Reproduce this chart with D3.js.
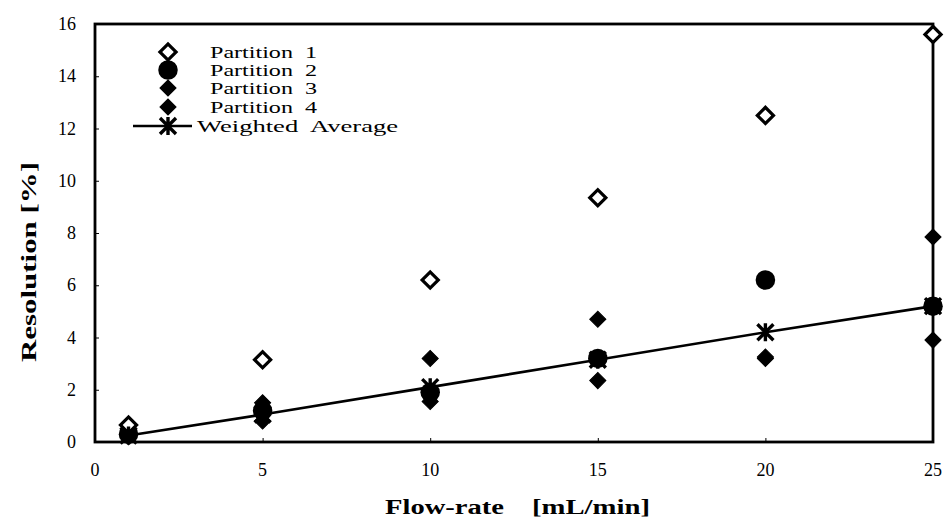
<!DOCTYPE html>
<html>
<head>
<meta charset="utf-8">
<script src="https://cdn.jsdelivr.net/npm/d3@7"></script>
<style>
  html, body { margin: 0; padding: 0; background: #fff; }
  svg { display: block; }
  text { font-family: "Liberation Serif", "Times New Roman", Times, serif; fill: #000; }
</style>
</head>
<body>
<svg id="chart" width="947" height="523"></svg>
<script>
// Flow-rate settings (mL/min)
const flowRates = [1, 5, 10, 15, 20, 25];

// Resolution per partition (%)
const partition1 = [0.65, 3.15, 6.2, 9.35, 12.5, 15.6];
const partition2 = [0.3, 1.2, 1.9, 3.2, 6.2, 5.2];
const partition3 = [0.45, 1.5, 3.2, 4.7, 3.25, 7.85];
const partition4 = [0.2, 0.8, 1.55, 2.35, 3.2, 3.9];
const weightedAverage = [0.25, 1.05, 2.1, 3.15, 4.2, 5.2];

const xTicks = [0, 5, 10, 15, 20, 25];
const yTicks = [0, 2, 4, 6, 8, 10, 12, 14, 16];

const legendLabels = ["Partition  1", "Partition  2", "Partition  3", "Partition  4", "Weighted  Average"];

const svg = d3.select("#chart");
const plotLeft = 95, plotRight = 933, plotTop = 24, plotBottom = 442;

const x = d3.scaleLinear().domain([0, 25]).range([plotLeft, plotRight]);
const y = d3.scaleLinear().domain([0, 16]).range([plotBottom, plotTop]);

// Plot frame
svg.append("rect")
  .attr("x", plotLeft).attr("y", plotTop)
  .attr("width", plotRight - plotLeft).attr("height", plotBottom - plotTop)
  .attr("fill", "none").attr("stroke", "#000").attr("stroke-width", 2.8);

// Axes: small inward ticks, labels outside
const yAxis = d3.axisRight(y).tickValues(yTicks).tickSize(4).tickFormat("");
svg.append("g").attr("transform", `translate(${plotLeft},0)`).call(yAxis)
  .call(g => g.select(".domain").remove())
  .call(g => g.selectAll("line").attr("stroke", "#000").attr("stroke-width", 1));
const xAxis = d3.axisTop(x).tickValues(xTicks).tickSize(4).tickFormat("");
svg.append("g").attr("transform", `translate(0,${plotBottom})`).call(xAxis)
  .call(g => g.select(".domain").remove())
  .call(g => g.selectAll("line").attr("stroke", "#000").attr("stroke-width", 1));

svg.append("g").selectAll("text").data(yTicks).join("text")
  .attr("x", 76).attr("y", d => y(d) + 6)
  .attr("text-anchor", "end").attr("font-size", 18)
  .text(d => d);

svg.append("g").selectAll("text").data(xTicks).join("text")
  .attr("x", d => x(d)).attr("y", 476)
  .attr("text-anchor", "middle").attr("font-size", 18)
  .text(d => d);

// Axis titles
svg.append("text").attr("x", 385).attr("y", 514)
  .attr("font-size", 20).attr("font-weight", "bold")
  .attr("textLength", 119).attr("lengthAdjust", "spacingAndGlyphs")
  .text("Flow-rate");
svg.append("text").attr("x", 532).attr("y", 514)
  .attr("font-size", 20).attr("font-weight", "bold")
  .attr("textLength", 118).attr("lengthAdjust", "spacingAndGlyphs")
  .text("[mL/min]");
svg.append("text")
  .attr("transform", "translate(36,262) rotate(-90)")
  .attr("text-anchor", "middle")
  .attr("font-size", 21).attr("font-weight", "bold")
  .attr("textLength", 200).attr("lengthAdjust", "spacingAndGlyphs")
  .text("Resolution [%]");

// Marker shapes
const diamondPath = d3.symbol(d3.symbolSquare, 130)();
const circlePath = d3.symbol(d3.symbolCircle, 300)();
function drawDiamond(g, open) {
  g.append("path").attr("d", diamondPath).attr("transform", "rotate(45)")
    .attr("fill", open ? "#fff" : "#000")
    .attr("stroke", "#000").attr("stroke-width", open ? 3.2 : 1);
}
function drawCircle(g) {
  g.append("path").attr("d", circlePath).attr("fill", "#000");
}
function drawStar(g) {
  const r = 8;
  g.append("path")
    .attr("d", `M${-r},${-r}L${r},${r}M${-r},${r}L${r},${-r}M0,${-r - 1}L0,${r + 1}`)
    .attr("stroke", "#000").attr("stroke-width", 3.4).attr("fill", "none");
}

const series = [
  { values: partition4, draw: g => drawDiamond(g, false) },
  { values: partition3, draw: g => drawDiamond(g, false) },
  { values: partition2, draw: g => drawCircle(g) },
  { values: partition1, draw: g => drawDiamond(g, true) }
];

// Weighted average line
const line = d3.line().x((d, i) => x(flowRates[i])).y(d => y(d));
svg.append("path").datum(weightedAverage)
  .attr("d", line).attr("fill", "none")
  .attr("stroke", "#000").attr("stroke-width", 2.6);

series.forEach(s => {
  svg.append("g").selectAll("g").data(s.values).join("g")
    .attr("transform", (d, i) => `translate(${x(flowRates[i])},${y(d)})`)
    .each(function () { s.draw(d3.select(this)); });
});
svg.append("g").selectAll("g").data(weightedAverage).join("g")
  .attr("transform", (d, i) => `translate(${x(flowRates[i])},${y(d)})`)
  .each(function () { drawStar(d3.select(this)); });

// Legend
const legendY = [52, 70, 88, 107, 126];
const legendDraw = [
  g => drawDiamond(g, true),
  g => drawCircle(g),
  g => drawDiamond(g, false),
  g => drawDiamond(g, false),
  g => {
    g.append("line").attr("x1", -35).attr("x2", 24)
      .attr("stroke", "#000").attr("stroke-width", 2.6);
    drawStar(g);
  }
];
const legendText = [{ x: 210, w: 107 }, { x: 210, w: 107 }, { x: 210, w: 107 }, { x: 210, w: 107 }, { x: 197, w: 201 }];
legendLabels.forEach((label, i) => {
  const g = svg.append("g").attr("transform", `translate(168,${legendY[i]})`);
  legendDraw[i](g);
  svg.append("text")
    .attr("x", legendText[i].x).attr("y", legendY[i] + 6)
    .attr("font-size", 16)
    .attr("textLength", legendText[i].w).attr("lengthAdjust", "spacingAndGlyphs")
    .style("white-space", "pre")
    .text(label);
});
</script>
</body>
</html>
